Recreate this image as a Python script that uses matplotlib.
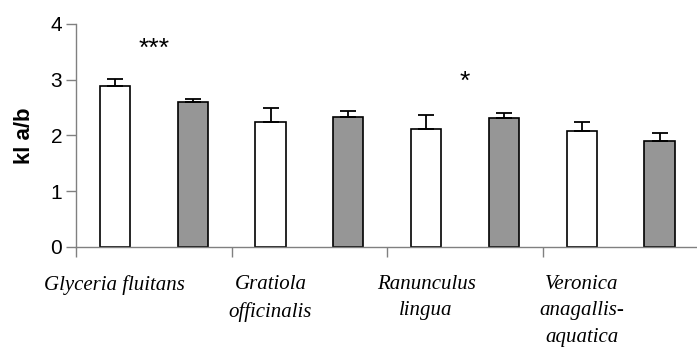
import numpy as np
import matplotlib.pyplot as plt

species = ["Glyceria fluitans", "Gratiola\nofficinalis", "Ranunculus\nlingua",
           "Veronica\nanagallis-\naquatica"]
white_vals = [2.89, 2.24, 2.11, 2.08]
white_err = [0.12, 0.26, 0.26, 0.16]
gray_vals = [2.60, 2.34, 2.31, 1.91]
gray_err = [0.06, 0.10, 0.09, 0.14]
stars = ["***", "", "*", ""]
star_y = [3.56, 0, 2.96, 0]

fig = plt.figure(figsize=(6.97, 3.49), dpi=100)
ax = fig.add_axes([76 / 697, 102 / 349, 622.4 / 697, 223 / 349])

x = np.arange(len(species)) + 0.5
w = 0.193
ekw = dict(ecolor="black", elinewidth=1.3, capthick=1.3)
ax.bar(x - 0.25, white_vals, w, color="white", edgecolor="black", linewidth=1.2,
       yerr=[np.zeros(4), white_err], capsize=6, error_kw=ekw, zorder=2)
ax.bar(x + 0.25, gray_vals, w, color="#969696", edgecolor="black", linewidth=1.2,
       yerr=[np.zeros(4), gray_err], capsize=6, error_kw=ekw, zorder=2)

for xi, s, sy in zip(x, stars, star_y):
    if s:
        ax.text(xi, sy, s, ha="center", va="center", fontsize=19,
                family="Liberation Sans")

ax.set_xlim(0, 4)
ax.set_ylim(0, 4)
ax.set_yticks([0, 1, 2, 3, 4])
ax.set_yticklabels(["0", "1", "2", "3", "4"], family="Liberation Sans", fontsize=15)
ax.set_xticks(np.arange(0, 5), minor=True)
ax.set_xticks(x - 0.25)
ax.set_xticklabels(species, family="Liberation Serif", style="italic",
                   fontsize=15, linespacing=1.55, va="top")
ax.tick_params(axis="x", which="major", length=0, pad=20)
ax.tick_params(axis="x", which="minor", length=7, color="#808080", width=1)
ax.tick_params(axis="y", length=7, color="#808080", width=1, pad=3)
ax.set_ylabel("kl a/b", family="Liberation Sans", fontweight="bold", fontsize=16,
              labelpad=11)

for sp in ["top", "right"]:
    ax.spines[sp].set_visible(False)
for sp in ["left", "bottom"]:
    ax.spines[sp].set_color("#808080")
    ax.spines[sp].set_linewidth(1)

fig.savefig("out.png", dpi=100)
